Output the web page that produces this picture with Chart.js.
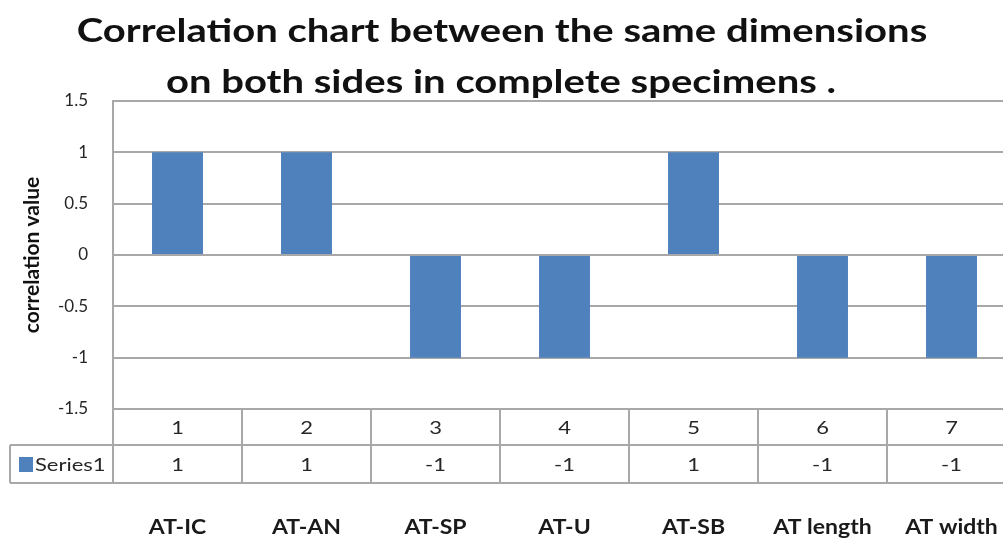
<!DOCTYPE html>
<html>
<head>
<meta charset="utf-8">
<script src="https://cdn.jsdelivr.net/npm/chart.js@4.4.0/dist/chart.umd.min.js"></script>
<style>
  html, body { margin: 0; padding: 0; background: #fff; overflow: hidden; }
  #wrap { width: 1020px; height: 541px; position: relative; }
</style>
</head>
<body>
<div id="wrap"><canvas id="chart"></canvas></div>
<script>
// --- data ---
const categories = ['1', '2', '3', '4', '5', '6', '7'];
const measureNames = ['AT-IC', 'AT-AN', 'AT-SP', 'AT-U', 'AT-SB', 'AT length', 'AT width'];
const series1 = [1, 1, -1, -1, 1, -1, -1];
const seriesName = 'Series1';
const yTickValues = [1.5, 1, 0.5, 0, -0.5, -1, -1.5];
const yTickLabels = ['1.5', '1', '0.5', '0', '-0.5', '-1', '-1.5'];
const titleLines = ['Correlation chart between the same dimensions', 'on both sides in complete specimens .'];

const BAR_COLOR = '#4f81bd';
const GRID_COLOR = '#a8a8a8';
const TEXT_COLOR = '#262626';
const FONT = 'Lato, "Open Sans", sans-serif';

// the original picture is a bit stretched sideways, so text is drawn wider
function stretchedText(ctx, text, x, y, sx, align) {
    ctx.save();
    ctx.translate(x, y);
    ctx.scale(sx, 1);
    ctx.textAlign = align || 'center';
    ctx.fillText(text, 0, 0);
    ctx.restore();
}

// table under the plot + title + measure names
const tablePlugin = {
    id: 'dataTable',
    afterDraw(chart) {
        const ctx = chart.ctx;
        const area = chart.chartArea;
        const x = chart.scales.x;
        const half = (x.getPixelForValue(1) - x.getPixelForValue(0)) / 2;
        const row1Bottom = area.bottom + 36;
        const row2Bottom = row1Bottom + 38;
        const legendLeft = 10;

        ctx.save();
        ctx.strokeStyle = GRID_COLOR;
        ctx.lineWidth = 2;
        ctx.beginPath();
        ctx.moveTo(legendLeft, row1Bottom); ctx.lineTo(area.right, row1Bottom);
        ctx.moveTo(legendLeft, row2Bottom); ctx.lineTo(area.right, row2Bottom);
        ctx.moveTo(legendLeft, row1Bottom); ctx.lineTo(legendLeft, row2Bottom);
        ctx.moveTo(area.left, area.bottom); ctx.lineTo(area.left, row2Bottom);
        categories.forEach((c, i) => {
            const bx = x.getPixelForValue(i) + half;
            ctx.moveTo(bx, area.bottom); ctx.lineTo(bx, row2Bottom);
        });
        ctx.stroke();

        ctx.fillStyle = TEXT_COLOR;
        ctx.font = '18px ' + FONT;
        ctx.textBaseline = 'middle';
        categories.forEach((c, i) => {
            const cx = x.getPixelForValue(i);
            stretchedText(ctx, c, cx, (area.bottom + row1Bottom) / 2 + 1, 1.22);
            stretchedText(ctx, String(series1[i]), cx, (row1Bottom + row2Bottom) / 2 + 1, 1.22);
        });

        // legend key
        ctx.fillStyle = BAR_COLOR;
        ctx.fillRect(19, 457, 14, 15);
        ctx.fillStyle = TEXT_COLOR;
        stretchedText(ctx, seriesName, 35, (row1Bottom + row2Bottom) / 2 + 1, 1.22, 'left');

        // measure names
        ctx.font = 'bold 20px ' + FONT;
        ctx.fillStyle = '#1a1a1a';
        measureNames.forEach((n, i) => {
            stretchedText(ctx, n, x.getPixelForValue(i), 528, 1.15);
        });

        // title
        ctx.font = 'bold 33px ' + FONT;
        ctx.fillStyle = '#111';
        stretchedText(ctx, titleLines[0], 502, 31, 1.213);
        stretchedText(ctx, titleLines[1], 501, 82, 1.213);
        ctx.restore();
    }
};

new Chart(document.getElementById('chart'), {
    type: 'bar',
    data: {
        labels: categories,
        datasets: [{
            label: seriesName,
            data: series1,
            backgroundColor: BAR_COLOR,
            borderWidth: 0,
            barPercentage: 0.395,
            categoryPercentage: 1
        }]
    },
    options: {
        responsive: true,
        maintainAspectRatio: false,
        animation: false,
        layout: { padding: { top: 101, right: 4, bottom: 132, left: 0 } },
        scales: {
            x: { display: false },
            y: {
                min: -1.5,
                max: 1.5,
                afterFit(scale) { scale.width = 113; },
                afterBuildTicks(scale) { scale.ticks = yTickValues.map(v => ({ value: v })); },
                border: { display: true, color: GRID_COLOR, width: 2 },
                grid: { color: GRID_COLOR, lineWidth: 2, drawTicks: false },
                ticks: {
                    padding: 25,
                    color: TEXT_COLOR,
                    font: { family: FONT, size: 17 },
                    callback: (v) => yTickLabels[yTickValues.indexOf(v)]
                },
                title: {
                    display: true,
                    text: 'correlation value',
                    color: '#111',
                    font: { family: FONT, size: 21, weight: 'bold' },
                    padding: { top: 20, bottom: 0 }
                }
            }
        },
        plugins: {
            legend: { display: false },
            tooltip: { enabled: false }
        }
    },
    plugins: [tablePlugin]
});
</script>
</body>
</html>
